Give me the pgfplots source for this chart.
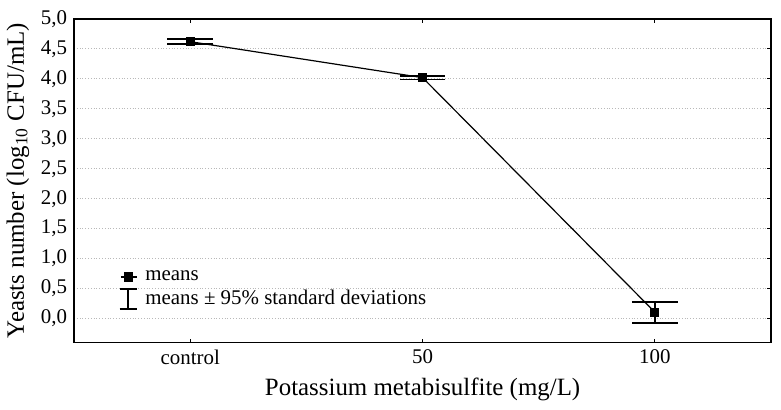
\documentclass[border=0pt]{standalone}
\usepackage{fontspec}
\setmainfont{Liberation Serif}
\usepackage{pgfplots}
\pgfplotsset{compat=1.18}

\begin{document}
\begin{tikzpicture}
\begin{axis}[
  scale only axis, width=350pt, height=162.5pt,
  xmin=-0.5, xmax=2.5, ymin=-0.4, ymax=5.0,
  xtick={0,1,2}, xticklabels={control,50,100},
  ytick={0,0.5,1,1.5,2,2.5,3,3.5,4,4.5,5},
  ytick pos=right, yticklabel pos=left,
  tick align=inside, major tick length=2pt,
  tick style={black, line width=0.6pt},
  axis line style={line width=0.9pt},
  ymajorgrids, grid style={densely dotted, gray!55, line width=0.5pt},
  /pgf/number format/.cd, use comma, fixed, fixed zerofill, precision=1, assume math mode=true,
  /pgfplots/.cd,
  ticklabel style={font=\fontsize{10.5}{12}\selectfont},
  xlabel={Potassium metabisulfite (mg/L)},
  ylabel={Yeasts number (log\textsubscript{10} CFU/mL)},
  label style={font=\fontsize{12.5}{15}\selectfont},
  ylabel style={yshift=-1pt},
  legend style={draw=none, fill=none, font=\fontsize{10.5}{12}\selectfont,
    at={(0.055,0.245)}, anchor=north west, row sep=0.5pt,
    nodes={inner sep=1.5pt},
    /tikz/every odd column/.append style={column sep=2.5pt}},
  legend cell align=left,
]
\addplot[black, line width=0.6pt, mark=square*, mark size=2pt,
  mark options={solid},
  legend image code/.code={
    \draw[black, line width=0.8pt] (0.12cm,0cm)--(0.4cm,0cm);
    \fill[black] (0.25cm,0cm) ++(-2pt,-2pt) rectangle ++(4pt,4pt);},
  error bars/.cd, y dir=both, y explicit,
  error bar style={line width=0.9pt},
  error mark options={rotate=90, mark size=11.5pt, line width=0.9pt}]
  coordinates {(0,4.62) +- (0,0.045) (1,4.02) +- (0,0.03) (2,0.105) +- (0,0.175)};
\addlegendentry{means}
\addlegendimage{legend image code/.code={
  \draw[black, line width=0.8pt] (0.25cm,-5pt)--(0.25cm,5pt)
    (0.1cm,-5pt)--(0.4cm,-5pt) (0.1cm,5pt)--(0.4cm,5pt);}}
\addlegendentry{means ± 95\% standard deviations}
\end{axis}
\path ([shift={(-35.5pt,-33.5pt)}]current axis.south west)
  rectangle ([shift={(5pt,9.5pt)}]current axis.north east);
\end{tikzpicture}
\end{document}
